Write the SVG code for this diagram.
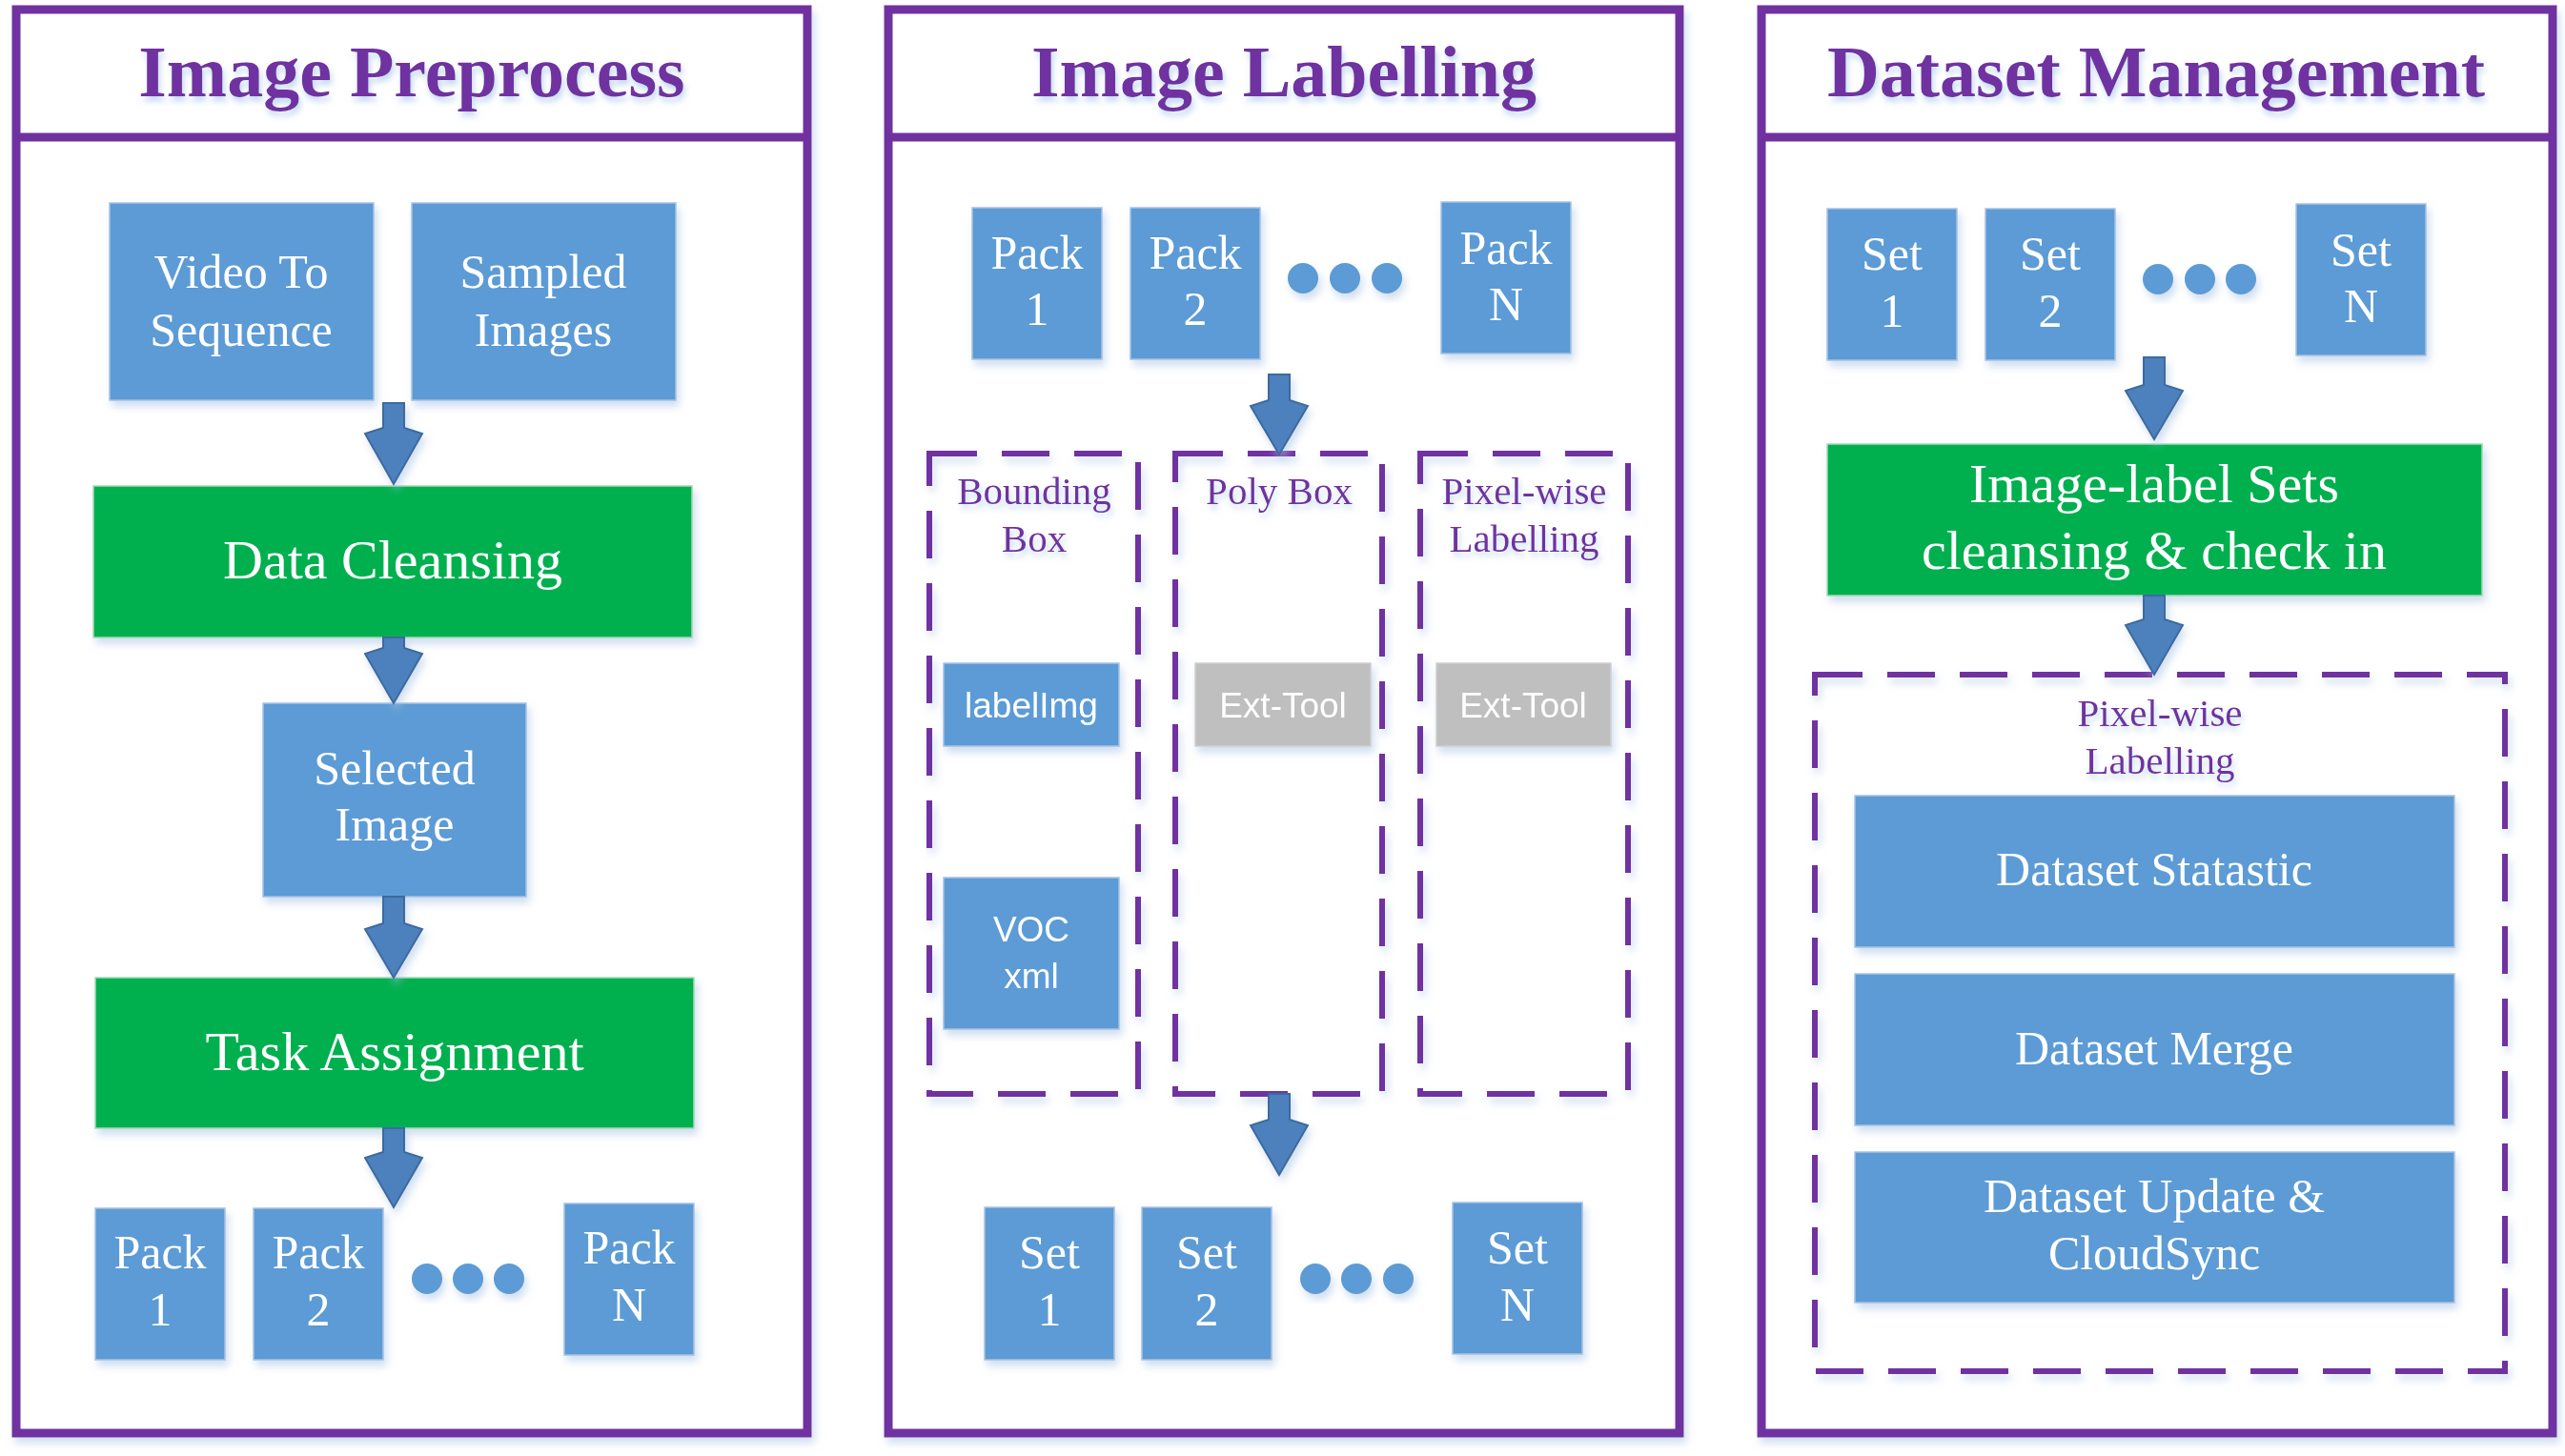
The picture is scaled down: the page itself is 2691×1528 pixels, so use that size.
<svg xmlns="http://www.w3.org/2000/svg" width="2691" height="1528" viewBox="0 0 2691 1528">
<defs>
<filter id="sh" x="-10%" y="-10%" width="130%" height="140%"><feDropShadow dx="3" dy="6" stdDeviation="4" flood-color="#A9C3E3" flood-opacity="0.55"/></filter>
<filter id="tsh" x="-10%" y="-20%" width="120%" height="160%"><feDropShadow dx="2" dy="5" stdDeviation="3" flood-color="#A9C8EA" flood-opacity="0.7"/></filter>
<style>
.panel{fill:#fff;stroke:#7030A0;stroke-width:9}
.sep{stroke:#7030A0;stroke-width:9}
.title{font-family:"Liberation Serif","Times New Roman",serif;font-weight:bold;font-size:76px;fill:#7030A0;text-anchor:middle}
.blue{fill:#5B9BD5;stroke:#A8C2E2;stroke-width:1.5}
.green{fill:#00B050;stroke:#A8D8B8;stroke-width:1.5}
.gray{fill:#BFBFBF;stroke:#D0D0D0;stroke-width:1.5}
.t50{font-family:"Liberation Serif","Times New Roman",serif;font-size:50px;fill:#fff;text-anchor:middle}
.t58{font-family:"Liberation Serif","Times New Roman",serif;font-size:58px;fill:#fff;text-anchor:middle}
.sans{font-family:"Liberation Sans",Arial,sans-serif;font-size:37px;fill:#fff;text-anchor:middle}
.plab{font-family:"Liberation Serif","Times New Roman",serif;font-size:41px;fill:#7030A0;text-anchor:middle}
.dash{fill:none;stroke:#7030A0;stroke-width:6;stroke-dasharray:50 26}
.dot{fill:#5B9BD5}
.arrow{fill:#4E81BD;stroke:#3C6A9E;stroke-width:2;stroke-linejoin:miter}
</style>
</defs>
<rect width="2691" height="1528" fill="#fff"/>

<!-- Panel 1 -->
<g id="panel-preprocess">
<rect class="panel" x="17" y="10" width="830" height="1494" filter="url(#sh)"/>
<line class="sep" x1="17" y1="144" x2="847" y2="144"/>
<text class="title" x="432" y="101" filter="url(#tsh)">Image Preprocess</text>
</g>
<g id="video-to-sequence" filter="url(#sh)">
<rect class="blue" x="115" y="213" width="277" height="207"/>
<text class="t50" x="253" y="302">Video To</text>
<text class="t50" x="253" y="363">Sequence</text>
</g>
<g id="sampled-images" filter="url(#sh)">
<rect class="blue" x="432" y="213" width="277" height="207"/>
<text class="t50" x="570" y="302">Sampled</text>
<text class="t50" x="570" y="363">Images</text>
</g>
<g id="data-cleansing" filter="url(#sh)">
<rect class="green" x="98" y="510" width="628" height="159"/>
<text class="t58" x="412" y="607">Data Cleansing</text>
</g>
<g id="selected-image" filter="url(#sh)">
<rect class="blue" x="276" y="738" width="276" height="203"/>
<text class="t50" x="414" y="823">Selected</text>
<text class="t50" x="414" y="882">Image</text>
</g>
<g id="task-assignment" filter="url(#sh)">
<rect class="green" x="100" y="1026" width="628" height="158"/>
<text class="t58" x="414" y="1123">Task Assignment</text>
</g>
<g id="p1-pack-1" filter="url(#sh)">
<rect class="blue" x="100" y="1268" width="136" height="159"/>
<text class="t50" x="168" y="1331">Pack</text>
<text class="t50" x="168" y="1391">1</text>
</g>
<g id="p1-pack-2" filter="url(#sh)">
<rect class="blue" x="266" y="1268" width="136" height="159"/>
<text class="t50" x="334" y="1331">Pack</text>
<text class="t50" x="334" y="1391">2</text>
</g>
<g id="p1-dots" filter="url(#sh)">
<circle class="dot" cx="448" cy="1342" r="16"/>
<circle class="dot" cx="491" cy="1342" r="16"/>
<circle class="dot" cx="534" cy="1342" r="16"/>
</g>
<g id="p1-pack-n" filter="url(#sh)">
<rect class="blue" x="592" y="1263" width="136" height="159"/>
<text class="t50" x="660" y="1326">Pack</text>
<text class="t50" x="660" y="1386">N</text>
</g>

<!-- Panel 2 -->
<g id="panel-labelling">
<rect class="panel" x="932" y="10" width="830" height="1494" filter="url(#sh)"/>
<line class="sep" x1="932" y1="144" x2="1762" y2="144"/>
<text class="title" x="1347" y="101" filter="url(#tsh)">Image Labelling</text>
</g>
<g id="p2-pack-1" filter="url(#sh)">
<rect class="blue" x="1020" y="218" width="136" height="159"/>
<text class="t50" x="1088" y="282">Pack</text>
<text class="t50" x="1088" y="341">1</text>
</g>
<g id="p2-pack-2" filter="url(#sh)">
<rect class="blue" x="1186" y="218" width="136" height="159"/>
<text class="t50" x="1254" y="282">Pack</text>
<text class="t50" x="1254" y="341">2</text>
</g>
<g id="p2-dots" filter="url(#sh)">
<circle class="dot" cx="1367" cy="292" r="16"/>
<circle class="dot" cx="1411" cy="292" r="16"/>
<circle class="dot" cx="1455" cy="292" r="16"/>
</g>
<g id="p2-pack-n" filter="url(#sh)">
<rect class="blue" x="1512" y="212" width="136" height="159"/>
<text class="t50" x="1580" y="277">Pack</text>
<text class="t50" x="1580" y="336">N</text>
</g>
<g id="bounding-box">
<rect class="dash" x="975" y="476" width="219" height="672" filter="url(#sh)"/>
<text class="plab" x="1085" y="529" filter="url(#tsh)">Bounding</text>
<text class="plab" x="1085" y="579" filter="url(#tsh)">Box</text>
</g>
<g id="poly-box">
<rect class="dash" x="1233" y="476" width="217" height="672" filter="url(#sh)"/>
<text class="plab" x="1342" y="529" filter="url(#tsh)">Poly Box</text>
</g>
<g id="pixel-wise-labelling-2">
<rect class="dash" x="1490" y="476" width="218" height="672" filter="url(#sh)"/>
<text class="plab" x="1599" y="529" filter="url(#tsh)">Pixel-wise</text>
<text class="plab" x="1599" y="579" filter="url(#tsh)">Labelling</text>
</g>
<g id="labelimg" filter="url(#sh)">
<rect class="blue" x="990" y="696" width="184" height="87"/>
<text class="sans" x="1082" y="753">labelImg</text>
</g>
<g id="ext-tool-1" filter="url(#sh)">
<rect class="gray" x="1254" y="696" width="184" height="87"/>
<text class="sans" x="1346" y="753">Ext-Tool</text>
</g>
<g id="ext-tool-2" filter="url(#sh)">
<rect class="gray" x="1507" y="696" width="183" height="87"/>
<text class="sans" x="1598" y="753">Ext-Tool</text>
</g>
<g id="voc-xml" filter="url(#sh)">
<rect class="blue" x="990" y="921" width="184" height="159"/>
<text class="sans" x="1082" y="988">VOC</text>
<text class="sans" x="1082" y="1037">xml</text>
</g>
<g id="p2-set-1" filter="url(#sh)">
<rect class="blue" x="1033" y="1267" width="136" height="160"/>
<text class="t50" x="1101" y="1331">Set</text>
<text class="t50" x="1101" y="1391">1</text>
</g>
<g id="p2-set-2" filter="url(#sh)">
<rect class="blue" x="1198" y="1267" width="136" height="160"/>
<text class="t50" x="1266" y="1331">Set</text>
<text class="t50" x="1266" y="1391">2</text>
</g>
<g id="p2-dots-b" filter="url(#sh)">
<circle class="dot" cx="1380" cy="1342" r="16"/>
<circle class="dot" cx="1423" cy="1342" r="16"/>
<circle class="dot" cx="1467" cy="1342" r="16"/>
</g>
<g id="p2-set-n" filter="url(#sh)">
<rect class="blue" x="1524" y="1262" width="136" height="159"/>
<text class="t50" x="1592" y="1326">Set</text>
<text class="t50" x="1592" y="1386">N</text>
</g>

<!-- Panel 3 -->
<g id="panel-management">
<rect class="panel" x="1848" y="10" width="830" height="1494" filter="url(#sh)"/>
<line class="sep" x1="1848" y1="144" x2="2678" y2="144"/>
<text class="title" x="2262" y="101" filter="url(#tsh)">Dataset Management</text>
</g>
<g id="p3-set-1" filter="url(#sh)">
<rect class="blue" x="1917" y="219" width="136" height="159"/>
<text class="t50" x="1985" y="283">Set</text>
<text class="t50" x="1985" y="343">1</text>
</g>
<g id="p3-set-2" filter="url(#sh)">
<rect class="blue" x="2083" y="219" width="136" height="159"/>
<text class="t50" x="2151" y="283">Set</text>
<text class="t50" x="2151" y="343">2</text>
</g>
<g id="p3-dots" filter="url(#sh)">
<circle class="dot" cx="2264" cy="293" r="16"/>
<circle class="dot" cx="2308" cy="293" r="16"/>
<circle class="dot" cx="2351" cy="293" r="16"/>
</g>
<g id="p3-set-n" filter="url(#sh)">
<rect class="blue" x="2409" y="214" width="136" height="159"/>
<text class="t50" x="2477" y="279">Set</text>
<text class="t50" x="2477" y="338">N</text>
</g>
<g id="image-label-sets" filter="url(#sh)">
<rect class="green" x="1917" y="466" width="687" height="159"/>
<text class="t58" x="2260" y="527">Image-label Sets</text>
<text class="t58" x="2260" y="597">cleansing &amp; check in</text>
</g>
<g id="pixel-wise-labelling-3">
<rect class="dash" x="1904" y="708" width="724" height="731" filter="url(#sh)"/>
<text class="plab" x="2266" y="762" filter="url(#tsh)">Pixel-wise</text>
<text class="plab" x="2266" y="812" filter="url(#tsh)">Labelling</text>
</g>
<g id="dataset-statastic" filter="url(#sh)">
<rect class="blue" x="1946" y="835" width="629" height="159"/>
<text class="t50" x="2260" y="929">Dataset Statastic</text>
</g>
<g id="dataset-merge" filter="url(#sh)">
<rect class="blue" x="1946" y="1022" width="629" height="159"/>
<text class="t50" x="2260" y="1117">Dataset Merge</text>
</g>
<g id="dataset-update" filter="url(#sh)">
<rect class="blue" x="1946" y="1209" width="629" height="158"/>
<text class="t50" x="2260" y="1272">Dataset Update &amp;</text>
<text class="t50" x="2260" y="1332">CloudSync</text>
</g>

<!-- Connectors -->
<g id="connectors" filter="url(#sh)">
<polygon class="arrow" points="402,423 424,423 424,449 443,455 413,508 383,455 402,449"/>
<polygon class="arrow" points="402,669 424,669 424,680 443,686 413,738 383,686 402,680"/>
<polygon class="arrow" points="402,941 424,941 424,969 443,975 413,1026 383,975 402,969"/>
<polygon class="arrow" points="402,1184 424,1184 424,1209 443,1215 413,1267 383,1215 402,1209"/>
<polygon class="arrow" points="1331,393 1353,393 1353,420 1372,426 1342,477 1312,426 1331,420"/>
<polygon class="arrow" points="1331,1148 1353,1148 1353,1175 1372,1181 1342,1233 1312,1181 1331,1175"/>
<polygon class="arrow" points="2249,375 2271,375 2271,404 2290,410 2260,461 2230,410 2249,404"/>
<polygon class="arrow" points="2249,625 2271,625 2271,650 2290,656 2260,708 2230,656 2249,650"/>
</g>
</svg>
